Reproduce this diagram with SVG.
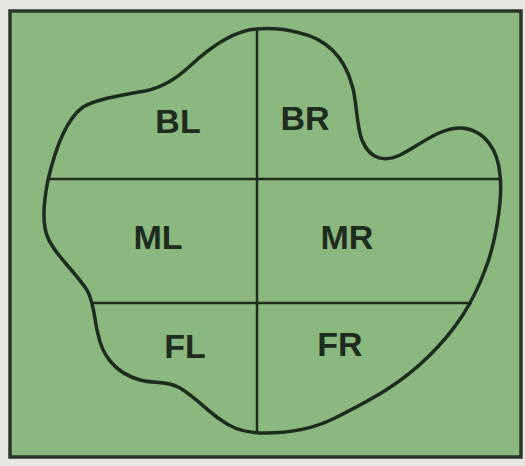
<svg xmlns="http://www.w3.org/2000/svg" width="525" height="466" viewBox="0 0 525 466">
<style>
.lbl{font-family:"Liberation Sans",Arial,sans-serif;font-weight:bold;font-size:34px;fill:#1f2b1f;text-anchor:middle}
.ln{fill:none;stroke:#1f2b1f;stroke-width:2.5}
.blob{fill:none;stroke:#1f2b1f;stroke-width:3.5;stroke-linejoin:round}
</style>
<rect x="0" y="0" width="525" height="466" fill="#e6e6e2"/>
<rect id="frame" x="10" y="11" width="511" height="446" fill="#8ab87f" stroke="#2a352a" stroke-width="3.5"/>
<g id="connectors">
<line class="ln" x1="257" y1="29" x2="257" y2="433"/>
<line class="ln" x1="47" y1="179" x2="500" y2="179"/>
<line class="ln" x1="92" y1="303" x2="472" y2="303"/>
</g>
<g id="outline">
<path class="blob" d="M257,29 C240,30 218,40 190,66 C175,80 160,88 145,91 C115,96 95,100 83,107 C65,120 55,150 48,180 C43,205 42,225 48,238 C55,255 72,268 87,290 C95,305 94,320 98,334 C102,355 115,373 140,380 C155,384 165,380 180,388 C200,400 215,420 235,428 C245,432 255,433 265,433 C290,433 315,428 335,418 C370,400 400,385 430,355 C455,330 472,305 485,270 C495,245 503,200 500,175 C498,150 485,130 462,128 C440,127 420,145 400,155 C385,162 370,160 362,140 C356,125 357,100 352,85 C345,60 330,40 300,33 C285,29 270,28 257,29 Z"/>
</g>
<g id="BL"><text class="lbl" x="178" y="133">BL</text></g>
<g id="BR"><text class="lbl" x="305" y="130">BR</text></g>
<g id="ML"><text class="lbl" x="158" y="249">ML</text></g>
<g id="MR"><text class="lbl" x="347" y="249">MR</text></g>
<g id="FL"><text class="lbl" x="185" y="358">FL</text></g>
<g id="FR"><text class="lbl" x="340" y="356">FR</text></g>
</svg>
